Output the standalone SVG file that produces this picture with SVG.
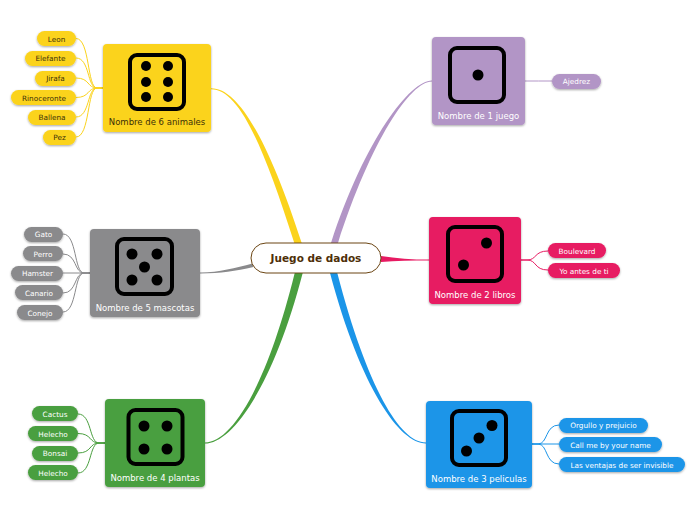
<svg xmlns="http://www.w3.org/2000/svg" width="696" height="520" viewBox="0 0 696 520">
<style>
text{font-family:"DejaVu Sans",Verdana,sans-serif;text-anchor:middle}
.t{font-size:8.5px;fill:#fff}
.l{font-size:7.3px;fill:#fff}
.ld{font-size:7.3px;fill:#3b3008}
.td{font-size:8.5px;fill:#3b3008}
.die{fill:none;stroke:#000;stroke-width:4;}
.d{fill:#000}
.box,.leaf{filter:url(#s)}
.c{fill:none;stroke-width:1}
</style>
<defs>
<filter id="s" x="-10%" y="-15%" width="120%" height="135%"><feDropShadow dx="0" dy="1" stdDeviation="1" flood-color="#000" flood-opacity=".35"/></filter>
</defs>
<g id="connectors">
<path fill="#fbd31c" d="M211 89.200C238 89.200 262 141 294.300 243L301.700 243C268 139 238 87.800 211 88.200Z"/>
<path fill="#b295c6" d="M432 80.500C410 80.500 365 139 331 243L338 243C371 141 410 81.500 432 81.500Z"/>
<path fill="#8a8a8c" d="M200 272.600C220 272.300 235 268 252.500 263.500L253.500 267C235 271 220 273.500 200 273.400Z"/>
<path fill="#4a9f3f" d="M205 442.500C232 442.500 267 385 294.700 273L302.700 273C273 387 232 443.500 205 443.500Z"/>
<path fill="#1b95e8" d="M426 442.500C400 442.500 367 387 337.300 273L330 273C361 389 400 443.500 426 443.500Z"/>
<path fill="#e71a62" d="M381 256C396 258.500 412 259.600 429 259.600L429 260.400C412 260.400 396 260.800 381 262Z"/>
<g class="c" stroke="#fbd31c">
<path d="M103 88L97 88C87 88 90 38.500 76 38.500"/><path d="M103 88L97 88C87 88 90 58 76 58"/><path d="M103 88L97 88C87 88 90 78 76 78"/><path d="M103 88L97 88C87 88 90 97.500 76 97.500"/><path d="M103 88L97 88C87 88 90 117 76 117"/><path d="M103 88L97 88C87 88 90 137 76 137"/>
</g>
<g class="c" stroke="#8a8a8c">
<path d="M90 273L84 273C74 273 77 234 63 234"/><path d="M90 273L84 273C74 273 77 254 63 254"/><path d="M90 273L63 273"/><path d="M90 273L84 273C74 273 77 293 63 293"/><path d="M90 273L84 273C74 273 77 312 63 312"/>
</g>
<g class="c" stroke="#4a9f3f">
<path d="M105 443L99 443C89 443 92 414 78 414"/><path d="M105 443L99 443C89 443 92 433.500 78 433.500"/><path d="M105 443L99 443C89 443 92 453 78 453"/><path d="M105 443L99 443C89 443 92 473 78 473"/>
</g>
<path class="c" stroke="#b295c6" d="M525 81C535 81 542 81 552 81"/>
<g class="c" stroke="#e71a62"><path d="M521 260L527 260C537 260 534 251 548 251"/><path d="M521 260L527 260C537 260 534 270 548 270"/></g>
<g class="c" stroke="#1b95e8"><path d="M532 444L538 444C548 444 545 425 559 425"/><path d="M532 444L559 444"/><path d="M532 444L538 444C548 444 545 464 559 464"/></g>
</g>
<g id="root"><rect x="251" y="243" width="130" height="30" rx="15" fill="#fff" stroke="#6b4513" stroke-width="1"/><text x="316" y="262" font-size="10.500" font-weight="700" fill="#4e2f08">Juego de dados</text></g>
<g id="n6"><rect class="box" x="103" y="44" width="108" height="88" rx="4" fill="#fbd31c"/><rect class="die" x="130" y="55" width="54" height="54" rx="7"/><circle class="d" cx="146" cy="66" r="5"/><circle class="d" cx="168" cy="66" r="5"/><circle class="d" cx="146" cy="82" r="5"/><circle class="d" cx="168" cy="82" r="5"/><circle class="d" cx="146" cy="97" r="5"/><circle class="d" cx="168" cy="97" r="5"/><text class="td" x="157" y="125">Nombre de 6 animales</text></g>
<g id="n5"><rect class="box" x="90" y="229" width="110" height="88" rx="4" fill="#8a8a8c"/><rect class="die" x="117" y="239" width="55" height="55" rx="7"/><circle class="d" cx="132" cy="254" r="5.500"/><circle class="d" cx="157" cy="254" r="5.500"/><circle class="d" cx="144.500" cy="267" r="5.500"/><circle class="d" cx="132" cy="280" r="5.500"/><circle class="d" cx="157" cy="280" r="5.500"/><text class="t" x="145" y="311">Nombre de 5 mascotas</text></g>
<g id="n4"><rect class="box" x="105" y="399" width="100" height="88" rx="4" fill="#4a9f3f"/><rect class="die" x="128.500" y="410" width="54" height="54" rx="7"/><circle class="d" cx="144" cy="426" r="5.500"/><circle class="d" cx="167" cy="426" r="5.500"/><circle class="d" cx="144" cy="449" r="5.500"/><circle class="d" cx="167" cy="449" r="5.500"/><text class="t" x="155" y="481">Nombre de 4 plantas</text></g>
<g id="n1"><rect class="box" x="432" y="37" width="93" height="88" rx="4" fill="#b295c6"/><rect class="die" x="450" y="48" width="54" height="54" rx="7"/><circle class="d" cx="478" cy="75" r="5.500"/><text class="t" x="478.500" y="119">Nombre de 1 juego</text></g>
<g id="n2"><rect class="box" x="429" y="217" width="92" height="87" rx="4" fill="#e71a62"/><rect class="die" x="448" y="227" width="54" height="54" rx="7"/><circle class="d" cx="486.500" cy="243" r="5.500"/><circle class="d" cx="463.500" cy="265" r="5.500"/><text class="t" x="475" y="298">Nombre de 2 libros</text></g>
<g id="n3"><rect class="box" x="426" y="401" width="106" height="87" rx="4" fill="#1b95e8"/><rect class="die" x="452" y="411" width="54" height="54" rx="7"/><circle class="d" cx="492" cy="425.500" r="5.500"/><circle class="d" cx="479" cy="438" r="5.500"/><circle class="d" cx="466.500" cy="451" r="5.500"/><text class="t" x="479" y="482">Nombre de 3 peliculas</text></g>
<g id="l61"><rect class="leaf" x="37" y="31" width="39" height="15" rx="7.500" fill="#fbd31c"/><text class="ld" x="56.500" y="41.500">Leon</text></g>
<g id="l62"><rect class="leaf" x="25" y="51" width="51" height="15" rx="7.500" fill="#fbd31c"/><text class="ld" x="50.500" y="61">Elefante</text></g>
<g id="l63"><rect class="leaf" x="35" y="71" width="41" height="15" rx="7.500" fill="#fbd31c"/><text class="ld" x="55.500" y="81">Jirafa</text></g>
<g id="l64"><rect class="leaf" x="11" y="90" width="65" height="15" rx="7.500" fill="#fbd31c"/><text class="ld" x="44" y="100.500">Rinoceronte</text></g>
<g id="l65"><rect class="leaf" x="28" y="110" width="48" height="15" rx="7.500" fill="#fbd31c"/><text class="ld" x="52" y="120">Ballena</text></g>
<g id="l66"><rect class="leaf" x="43" y="130" width="33" height="15" rx="7.500" fill="#fbd31c"/><text class="ld" x="59.500" y="140">Pez</text></g>
<g id="l51"><rect class="leaf" x="24" y="227" width="39" height="15" rx="7.500" fill="#8a8a8c"/><text class="l" x="43.500" y="237">Gato</text></g>
<g id="l52"><rect class="leaf" x="23" y="246" width="40" height="15" rx="7.500" fill="#8a8a8c"/><text class="l" x="43" y="256.500">Perro</text></g>
<g id="l53"><rect class="leaf" x="11" y="266" width="52" height="15" rx="7.500" fill="#8a8a8c"/><text class="l" x="37.500" y="276">Hamster</text></g>
<g id="l54"><rect class="leaf" x="15" y="285" width="48" height="15" rx="7.500" fill="#8a8a8c"/><text class="l" x="39" y="296">Canario</text></g>
<g id="l55"><rect class="leaf" x="17" y="305" width="46" height="15" rx="7.500" fill="#8a8a8c"/><text class="l" x="40" y="315.500">Conejo</text></g>
<g id="l41"><rect class="leaf" x="32" y="406" width="46" height="15" rx="7.500" fill="#4a9f3f"/><text class="l" x="55" y="417">Cactus</text></g>
<g id="l42"><rect class="leaf" x="28" y="426" width="50" height="15" rx="7.500" fill="#4a9f3f"/><text class="l" x="53" y="436.500">Helecho</text></g>
<g id="l43"><rect class="leaf" x="32" y="446" width="46" height="15" rx="7.500" fill="#4a9f3f"/><text class="l" x="55" y="456">Bonsai</text></g>
<g id="l44"><rect class="leaf" x="28" y="465" width="50" height="15" rx="7.500" fill="#4a9f3f"/><text class="l" x="53" y="476">Helecho</text></g>
<g id="l11"><rect class="leaf" x="552" y="74" width="49" height="15" rx="7.500" fill="#b295c6"/><text class="l" x="576.500" y="84">Ajedrez</text></g>
<g id="l21"><rect class="leaf" x="548" y="243" width="58" height="15" rx="7.500" fill="#e71a62"/><text class="l" x="577" y="254">Boulevard</text></g>
<g id="l22"><rect class="leaf" x="548" y="263" width="72" height="15" rx="7.500" fill="#e71a62"/><text class="l" x="584" y="273.500">Yo antes de ti</text></g>
<g id="l31"><rect class="leaf" x="559" y="418" width="89" height="15" rx="7.500" fill="#1b95e8"/><text class="l" x="603.500" y="428">Orgullo y prejuicio</text></g>
<g id="l32"><rect class="leaf" x="559" y="437" width="103" height="15" rx="7.500" fill="#1b95e8"/><text class="l" x="610.500" y="447.500">Call me by your name</text></g>
<g id="l33"><rect class="leaf" x="559" y="457" width="126" height="15" rx="7.500" fill="#1b95e8"/><text class="l" x="622" y="467.500">Las ventajas de ser invisible</text></g>
</svg>
